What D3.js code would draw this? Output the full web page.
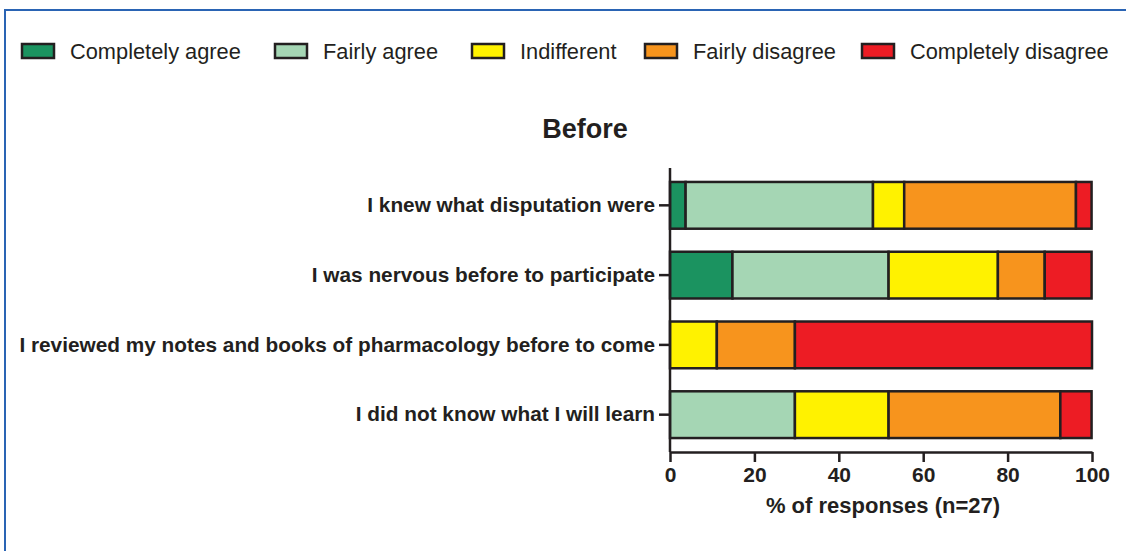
<!DOCTYPE html>
<html lang="en">
<head>
    <meta charset="UTF-8">
    <script src="https://cdnjs.cloudflare.com/ajax/libs/d3/7.8.5/d3.min.js"></script>
    <style>
        body { margin: 0; background: #fff; }
        svg { font-family: Arial, "Liberation Sans", sans-serif; }
        .yAxis path.domain, .xAxis path.domain { stroke: #231f20; stroke-width: 2.5; }
        .tick > line { stroke: #231f20; stroke-width: 2.5; }
        .tick > text { fill: #231f20; font-weight: bold; }
    </style>
</head>
<body>
    <svg width="1126" height="551"></svg>
    <script>
        const statements = [
            'I knew what disputation were',
            'I was nervous before to participate',
            'I reviewed my notes and books of pharmacology before to come',
            'I did not know what I will learn'
        ];
        const answers = ['Completely agree', 'Fairly agree', 'Indifferent', 'Fairly disagree', 'Completely disagree'];
        const colors = ['#1b9360', '#a5d6b4', '#fff200', '#f7941d', '#ed1c24'];
        // counts out of n=27, in % of responses
        const completelyAgree = [3.7, 14.8, 0, 0];
        const fairlyAgree = [44.4, 37.0, 0, 29.6];
        const indifferent = [7.4, 25.9, 11.1, 22.2];
        const fairlyDisagree = [40.7, 11.1, 18.5, 40.7];
        const completelyDisagree = [3.7, 11.1, 70.4, 7.4];
        const xTicks = [0, 20, 40, 60, 80, 100];

        const svg = d3.select('svg');

        // blue frame
        svg.append('path')
            .attr('d', 'M5,552 L5,10 L1130,10')
            .attr('fill', 'none')
            .attr('stroke', '#2a64b4')
            .attr('stroke-width', 2);

        const table = statements.map((s, i) => ({
            statement: s,
            'Completely agree': completelyAgree[i],
            'Fairly agree': fairlyAgree[i],
            'Indifferent': indifferent[i],
            'Fairly disagree': fairlyDisagree[i],
            'Completely disagree': completelyDisagree[i]
        }));
        const stacked = d3.stack().keys(answers)(table);

        const xScale = d3.scaleLinear().domain([0, 100]).range([670, 1092]);
        const yScale = d3.scaleBand().domain(statements).range([168, 452]).paddingInner(0.33).paddingOuter(0.2);
        const color = d3.scaleOrdinal().domain(answers).range(colors);

        svg.append('text')
            .attr('x', 585).attr('y', 138)
            .attr('text-anchor', 'middle')
            .style('font-size', '27px').style('font-weight', 'bold')
            .attr('fill', '#231f20')
            .text('Before');

        stacked.forEach(layer => {
            svg.append('g').selectAll('rect')
                .data(layer.filter(d => d[1] - d[0] > 0))
                .enter().append('rect')
                .attr('x', d => xScale(d[0]))
                .attr('width', d => xScale(d[1]) - xScale(d[0]))
                .attr('y', d => yScale(d.data.statement))
                .attr('height', yScale.bandwidth())
                .attr('fill', color(layer.key))
                .attr('stroke', '#231f20')
                .attr('stroke-width', 2.5);
        });

        const yAxis = d3.axisLeft(yScale).tickSize(11).tickSizeOuter(0).tickPadding(4);
        svg.append('g').attr('class', 'yAxis')
            .attr('transform', 'translate(670,0)')
            .call(yAxis)
            .call(g => g.select('path.domain').attr('d', 'M0,168V452'))
            .selectAll('.tick text').style('font-size', '20.8px');

        const xAxis = d3.axisBottom(xScale).tickValues(xTicks).tickSize(10).tickSizeOuter(0).tickPadding(5);
        svg.append('g').attr('class', 'xAxis')
            .attr('transform', 'translate(0,452)')
            .call(xAxis)
            .selectAll('.tick text').style('font-size', '21px');

        svg.append('text')
            .attr('x', xScale(50) + 2).attr('y', 513)
            .attr('text-anchor', 'middle')
            .style('font-size', '22px').style('font-weight', 'bold')
            .attr('fill', '#231f20')
            .text('% of responses (n=27)');

        // legend
        const legendX = [22, 275, 472, 645, 862];
        const legend = svg.append('g').selectAll('g')
            .data(answers)
            .enter().append('g')
            .attr('transform', (d, i) => `translate(${legendX[i]},44)`);
        legend.append('rect')
            .attr('width', 32).attr('height', 14)
            .attr('fill', d => color(d))
            .attr('stroke', '#231f20')
            .attr('stroke-width', 2.5);
        legend.append('text')
            .attr('x', 48).attr('y', 15)
            .style('font-size', '21.8px')
            .attr('fill', '#231f20')
            .text(d => d);
    </script>
</body>
</html>
